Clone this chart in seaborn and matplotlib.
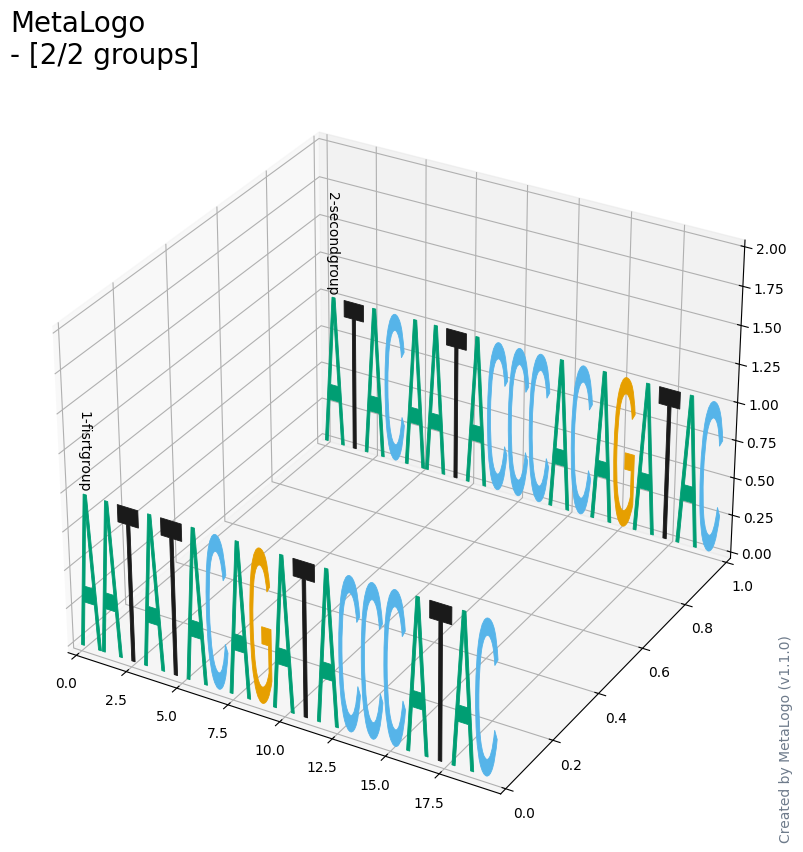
import matplotlib
matplotlib.use("Agg")
import matplotlib.pyplot as plt
import seaborn as sns
from matplotlib.textpath import TextPath
from matplotlib.patches import PathPatch
from matplotlib.transforms import Affine2D
from matplotlib.font_manager import FontProperties
import mpl_toolkits.mplot3d.art3d as art3d
from mpl_toolkits.mplot3d import proj3d

sns.reset_defaults()
plt.rcParams["axes3d.automargin"] = True

group_names = ["1-fisrtgroup", "2-secondgroup"]
group_seq = ["AATATACAGATACCCATAC", "ATACAATACCCACAGATAC"]
group_y = [0.0, 1.0]
letter_height = 1.0
letter_pitch = 1.05
x_max = 19.9
letters = ["A", "C", "G", "T"]
palette = sns.color_palette(["#009E73", "#56B4E9", "#E69F00", "#1A1A1A"])
colors = dict(zip(letters, palette))

W, H = 804, 852
fig = plt.figure(figsize=(W / 100, H / 100), dpi=100)
ax = fig.add_axes([7.5 / W, (H - 842.5) / H, 775 / W, 770 / H], projection="3d")
fp = FontProperties(family="Liberation Sans")

ax.set_xlim(0, x_max)
ax.set_ylim(0, 1)
ax.set_zlim(0, 2)

for name, seq, y in zip(group_names, group_seq, group_y):
    for i, ch in enumerate(seq):
        tp = TextPath((0, 0), ch, size=1, prop=fp)
        bb = tp.get_extents()
        tr = Affine2D().translate(-bb.x0, -bb.y0).scale(1 / bb.width, letter_height / bb.height).translate(i * letter_pitch, 0)
        patch = PathPatch(tr.transform_path(tp), facecolor=colors[ch], edgecolor=colors[ch], lw=0.6)
        ax.add_patch(patch)
        art3d.pathpatch_2d_to_3d(patch, z=y, zdir="y")
    px, py, _ = proj3d.proj_transform(0.45, y, letter_height * 1.01, ax.get_proj())
    ax.text2D(px, py, name, transform=ax.transData, rotation=-90, ha="center", va="bottom", fontsize=10)

fig.text(10 / W, 1 - 70 / H, "MetaLogo\n- [2/2 groups]", fontsize=20, ha="left", va="bottom")
fig.text(786 / W, 1 - 843 / H, "Created by MetaLogo (v1.1.0)", rotation=90, fontsize=10, color="#6E7B8B", ha="center", va="bottom")
fig.savefig("out.png", dpi=100)
